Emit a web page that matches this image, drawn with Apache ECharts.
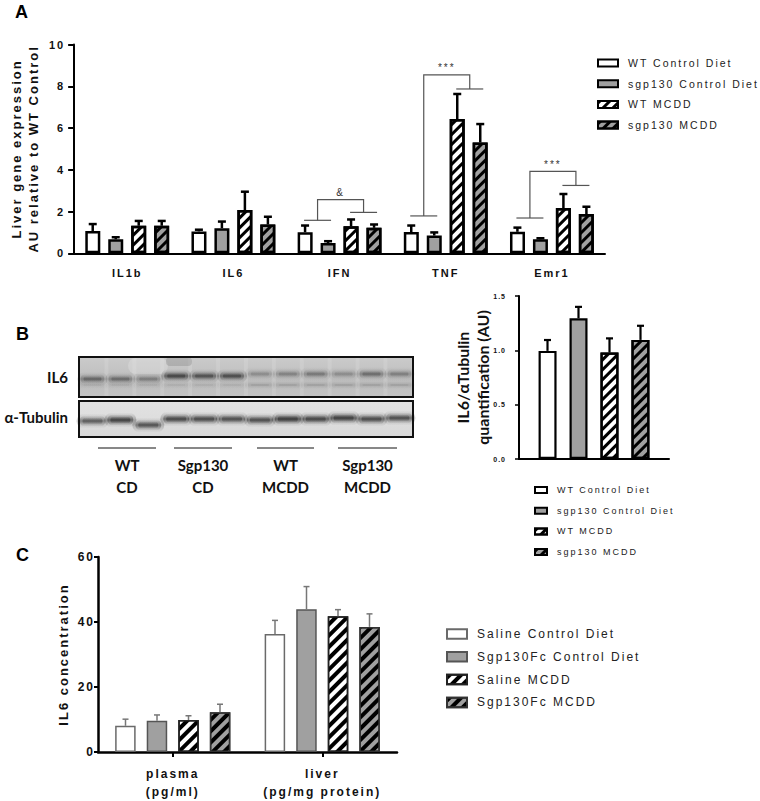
<!DOCTYPE html>
<html><head><meta charset="utf-8">
<script src="https://cdn.jsdelivr.net/npm/echarts@6/dist/echarts.min.js"></script>
<style>
html,body{margin:0;padding:0;background:#fff;}
#chart{width:760px;height:801px;}
#chart text{letter-spacing:2px;}
#chart text[style*="Lato"]{letter-spacing:0;}
#chart text[style*="Arial"]{letter-spacing:1px;}
</style></head><body><div id="chart"></div>
<script>
// ---------- Panel A: liver gene expression ----------
const geneCategories = ['IL1b', 'IL6', 'IFN', 'TNF', 'Emr1'];
const groupNames = ['WT Control Diet', 'sgp130 Control Diet', 'WT MCDD', 'sgp130 MCDD'];
const wtCD_gene = [1.07, 1.05, 1.01, 1.02, 1.03];
const wtCD_geneSem = [0.33, 0.08, 0.32, 0.31, 0.20];
const sgpCD_gene = [0.67, 1.20, 0.49, 0.85, 0.67];
const sgpCD_geneSem = [0.10, 0.32, 0.09, 0.15, 0.05];
const wtMCDD_gene = [1.32, 2.07, 1.30, 6.43, 2.17];
const wtMCDD_geneSem = [0.23, 0.88, 0.32, 1.20, 0.67];
const sgpMCDD_gene = [1.32, 1.38, 1.22, 5.31, 1.88];
const sgpMCDD_geneSem = [0.23, 0.37, 0.16, 0.88, 0.35];
const geneTicks = [0, 2, 4, 6, 8, 10];
// significance brackets: [category index, left level, right level, top level]
const bracketLevels = [[2, 1.58, 1.96, 2.57], [3, 1.79, 7.87, 8.55], [4, 1.69, 3.25, 3.92]];
const bracketLabels = ['&', '***', '***'];

// ---------- Panel B: western blot quantification ----------
const blotCategory = ['IL6'];
const blotQuant = [0.995, 1.295, 0.98, 1.096];
const blotQuantSem = [0.10, 0.105, 0.13, 0.13];
const blotGenotype = ['WT', 'Sgp130', 'WT', 'Sgp130'];
const blotDiet = ['CD', 'CD', 'MCDD', 'MCDD'];
const il6BandDensity = [0.50, 0.46, 0.34, 0.78, 0.68, 0.72, 0.26, 0.32, 0.38, 0.26, 0.46, 0.34];
const tubulinBandDensity = [0.62, 0.86, 0.70, 0.80, 0.78, 0.74, 0.74, 0.92, 0.82, 0.88, 0.78, 0.74];

// ---------- Panel C: IL6 concentration ----------
const tissueCategories = ['plasma\n(pg/ml)', 'liver\n(pg/mg protein)'];
const treatNames = ['Saline Control Diet', 'Sgp130Fc Control Diet', 'Saline MCDD', 'Sgp130Fc MCDD'];
const salineCD_il6 = [8.06, 36.3];
const salineCD_il6Sem = [2.04, 4.2];
const sgpFcCD_il6 = [9.65, 43.9];
const sgpFcCD_il6Sem = [1.75, 7.0];
const salineMCDD_il6 = [9.85, 41.8];
const salineMCDD_il6Sem = [1.3, 2.0];
const sgpFcMCDD_il6 = [12.2, 38.5];
const sgpFcMCDD_il6Sem = [2.5, 4.0];

// ---------- helpers ----------
const FONT = 'Liberation Sans';
const GRAY = '#a0a0a0';
function stripes(th, gap) {
  return { symbol: 'rect', symbolSize: 1, dashArrayX: [1, 0], dashArrayY: [th, gap], rotation: -Math.PI / 4, color: '#000' };
}
function errData(means, sems) {
  const out = [];
  means.forEach((arr, k) => arr.forEach((v, i) => out.push([i, v, v + sems[k][i], k])));
  return out;
}
function errRender(step, half, color, width) {
  return function (params, api) {
    const i = api.value(0), k = api.value(3);
    const p0 = api.coord([i, api.value(1)]);
    const p1 = api.coord([i, api.value(2)]);
    const x = p0[0] + (k - 1.5) * step;
    const st = { stroke: color, lineWidth: width };
    return { type: 'group', children: [
      { type: 'line', shape: { x1: x, y1: p0[1], x2: x, y2: p1[1] }, style: st },
      { type: 'line', shape: { x1: x - half, y1: p1[1], x2: x + half, y2: p1[1] }, style: st }
    ] };
  };
}
const stepA = 23, stepB = 31, stepC = 31.5;

function bracketRender(params, api) {
  const i = api.value(0);
  const cx = api.coord([i, 0])[0];
  const yL = api.coord([i, api.value(1)])[1];
  const yR = api.coord([i, api.value(2)])[1];
  const yT = api.coord([i, api.value(3)])[1];
  const c = k => cx + (k - 1.5) * stepA;
  const xl0 = c(0) - 1, xl1 = c(1) + 3, xr0 = c(2) - 1, xr1 = c(3) + 3;
  const xl = (xl0 + xl1) / 2, xr = (xr0 + xr1) / 2;
  const st = { stroke: '#555', lineWidth: 1.2, fill: null };
  return { type: 'group', children: [
    { type: 'polyline', shape: { points: [[xl0, yL], [xl1, yL]] }, style: st },
    { type: 'polyline', shape: { points: [[xl, yL], [xl, yT], [xr, yT], [xr, yR]] }, style: st },
    { type: 'polyline', shape: { points: [[xr0, yR], [xr1, yR]] }, style: st },
    { type: 'text', x: (xl + xr) / 2, y: yT - 2, style: { text: bracketLabels[params.dataIndex], align: 'center', verticalAlign: 'bottom', font: '10px ' + FONT, fill: '#333' } }
  ] };
}

function blotGraphics() {
  const els = [];
  const x0 = 79, w = 334, firstLane = 92.5, laneStep = 27.9;
  const grad = (stops) => ({ type: 'linear', x: 0, y: 0, x2: 0, y2: 1, colorStops: stops });
  const soft = (a) => grad([{ offset: 0, color: 'rgba(40,40,40,0)' }, { offset: 0.5, color: 'rgba(40,40,40,' + a + ')' }, { offset: 1, color: 'rgba(40,40,40,0)' }]);
  const band = (cx, cy, bw, bh, a) => {
    els.push({ type: 'rect', silent: true, shape: { x: cx - bw / 2 - 3, y: cy - bh / 2 - 2, width: bw + 6, height: bh + 4, r: bh / 2 + 2 }, style: { fill: soft(a * 0.35) } });
    els.push({ type: 'rect', silent: true, shape: { x: cx - bw / 2, y: cy - bh / 2, width: bw, height: bh, r: bh / 2 }, style: { fill: soft(a * 0.6) } });
    els.push({ type: 'rect', silent: true, shape: { x: cx - bw / 2 + 3, y: cy - bh / 2 + 2, width: bw - 6, height: bh - 4, r: (bh - 4) / 2 }, style: { fill: soft(a * 0.7) } });
  };
  // IL6 membrane
  els.push({ type: 'rect', silent: true, shape: { x: x0, y: 357, width: w, height: 40 },
    style: { fill: grad([{ offset: 0, color: '#cbcbcb' }, { offset: 0.55, color: '#bebebe' }, { offset: 1, color: '#c3c3c3' }]) } });
  for (let i = 0; i < 12; i++) {
    const lx = firstLane + i * laneStep + laneStep / 2;
    els.push({ type: 'rect', silent: true, shape: { x: lx - 2, y: 358, width: 4, height: 38 }, style: { fill: 'rgba(255,255,255,0.12)' } });
  }
  els.push({ type: 'rect', silent: true, shape: { x: 128, y: 358, width: 40, height: 16, r: 8 }, style: { fill: 'rgba(230,230,230,0.35)' } });
  els.push({ type: 'rect', silent: true, shape: { x: 166, y: 357, width: 26, height: 9, r: 4 }, style: { fill: 'rgba(90,90,90,0.22)' } });
  const il6Y = [379, 379, 379, 376, 376, 376, 374, 374, 374, 374, 374, 374];
  il6BandDensity.forEach((d, i) => {
    const cx = firstLane + i * laneStep;
    band(cx, il6Y[i], 24, 10, d);
    band(cx, 385, 24, 7, i >= 6 ? 0.16 : 0.09);
  });
  els.push({ type: 'rect', silent: true, shape: { x: x0, y: 357, width: w, height: 40 }, style: { fill: null, stroke: '#111', lineWidth: 2 } });
  // tubulin membrane
  els.push({ type: 'rect', silent: true, shape: { x: x0, y: 401, width: w, height: 36 },
    style: { fill: grad([{ offset: 0, color: '#e2e2e2' }, { offset: 1, color: '#d9d9d9' }]) } });
  const tubY = [421, 420, 425, 419, 419, 419, 420, 419, 419, 418, 419, 418];
  tubulinBandDensity.forEach((d, i) => band(firstLane + i * laneStep, tubY[i], 26, 11, d));
  els.push({ type: 'rect', silent: true, shape: { x: x0, y: 401, width: w, height: 36 }, style: { fill: null, stroke: '#111', lineWidth: 2 } });
  // row labels
  els.push({ type: 'text', silent: true, x: 68, y: 377, style: { text: 'IL6', align: 'right', verticalAlign: 'middle', font: 'bold 15px Lato', fill: '#111' } });
  els.push({ type: 'text', silent: true, x: 68, y: 417, style: { text: 'α-Tubulin', align: 'right', verticalAlign: 'middle', font: 'bold 15px Lato', fill: '#111' } });
  // lane group labels
  const segs = [[98, 156], [174, 232], [257, 314], [338, 397]];
  segs.forEach((s, g) => {
    els.push({ type: 'line', silent: true, shape: { x1: s[0], y1: 448, x2: s[1], y2: 448 }, style: { stroke: '#111', lineWidth: 1 } });
    const mx = (s[0] + s[1]) / 2;
    els.push({ type: 'text', silent: true, x: mx, y: 465, style: { text: blotGenotype[g], align: 'center', verticalAlign: 'middle', font: 'bold 15px Lato', fill: '#111' } });
    els.push({ type: 'text', silent: true, x: mx, y: 487, style: { text: blotDiet[g], align: 'center', verticalAlign: 'middle', font: 'bold 15px Lato', fill: '#111' } });
  });
  return els;
}

const axisLineBlack = (w) => ({ show: true, lineStyle: { color: '#000', width: w } });
const tickLabel = (size, margin, extra) => Object.assign({ fontFamily: FONT, fontWeight: 'bold', fontSize: size, color: '#111', margin: margin }, extra || {});

const aMeans = [wtCD_gene, sgpCD_gene, wtMCDD_gene, sgpMCDD_gene];
const aSems = [wtCD_geneSem, sgpCD_geneSem, wtMCDD_geneSem, sgpMCDD_geneSem];
const aFill = ['#fff', GRAY, '#fff', GRAY];
const cMeans = [salineCD_il6, sgpFcCD_il6, salineMCDD_il6, sgpFcMCDD_il6];
const cSems = [salineCD_il6Sem, sgpFcCD_il6Sem, salineMCDD_il6Sem, sgpFcMCDD_il6Sem];
const cBorder = ['#6a6a6a', '#555', '#222', '#333'];

const series = [];
groupNames.forEach((n, k) => series.push({
  type: 'bar', name: n, xAxisIndex: 0, yAxisIndex: 0, data: aMeans[k], barWidth: 15, barGap: '53%',
  itemStyle: { color: aFill[k], borderColor: '#000', borderWidth: 2.5, decal: k >= 2 ? stripes(3, 4) : null }
}));
series.push({ type: 'custom', name: 'errA', xAxisIndex: 0, yAxisIndex: 0, data: errData(aMeans, aSems), encode: { x: 0, y: 1 }, renderItem: errRender(stepA, 4, '#000', 2.5), z: 5 });
series.push({ type: 'custom', name: 'brackets', xAxisIndex: 0, yAxisIndex: 0, data: bracketLevels, encode: { x: 0, y: 1 }, renderItem: bracketRender, z: 5 });
groupNames.forEach((n, k) => series.push({
  type: 'bar', name: n, xAxisIndex: 1, yAxisIndex: 1, data: [blotQuant[k]], barWidth: 18, barGap: '72%',
  itemStyle: { color: aFill[k], borderColor: '#000', borderWidth: 2.2, decal: k >= 2 ? stripes(3, 4) : null }
}));
series.push({ type: 'custom', name: 'errB', xAxisIndex: 1, yAxisIndex: 1, data: blotQuant.map((v, k) => [0, v, v + blotQuantSem[k], k]), encode: { x: 0, y: 1 }, renderItem: errRender(stepB, 3.5, '#000', 2.2), z: 5 });
treatNames.forEach((n, k) => series.push({
  type: 'bar', name: n, xAxisIndex: 2, yAxisIndex: 2, data: cMeans[k], barWidth: 20.5, barGap: '54%',
  itemStyle: { color: aFill[k], borderColor: cBorder[k], borderWidth: 1.5, decal: k >= 2 ? stripes(4, 4) : null }
}));
series.push({ type: 'custom', name: 'errC', xAxisIndex: 2, yAxisIndex: 2, data: errData(cMeans, cSems), encode: { x: 0, y: 1 }, renderItem: errRender(stepC, 3, '#777', 1.5), z: 5 });

const legendBase = (extra) => Object.assign({ orient: 'vertical', icon: 'rect', selectedMode: false }, extra);

const option = {
  animation: false,
  backgroundColor: '#fff',
  grid: [
    { left: 69, top: 44.5, width: 536, height: 208.8 },
    { left: 519, top: 296, width: 150, height: 163 },
    { left: 98, top: 557, width: 299, height: 201 }
  ],
  xAxis: [
    { gridIndex: 0, type: 'category', data: geneCategories, axisLine: axisLineBlack(2), axisTick: { show: false }, axisLabel: tickLabel(11, 14) },
    { gridIndex: 1, type: 'category', data: blotCategory, axisLine: axisLineBlack(2), axisTick: { show: false }, axisLabel: { show: false } },
    { gridIndex: 2, type: 'category', data: tissueCategories, axisLine: axisLineBlack(2.5),
      axisTick: { show: true, alignWithLabel: true, length: 5, lineStyle: { color: '#000', width: 2 } }, axisLabel: tickLabel(12, 13, { lineHeight: 18 }) }
  ],
  yAxis: [
    { gridIndex: 0, type: 'value', min: geneTicks[0], max: geneTicks[geneTicks.length - 1], interval: geneTicks[1] - geneTicks[0],
      axisLine: axisLineBlack(2), axisTick: { show: true, length: 6, lineStyle: { color: '#000', width: 2 } }, splitLine: { show: false },
      axisLabel: tickLabel(11, 9),
      name: 'Liver gene expression\nAU relative to WT Control', nameLocation: 'middle', nameGap: 26,
      nameTextStyle: { fontFamily: FONT, fontWeight: 'bold', fontSize: 13, lineHeight: 17, color: '#111' } },
    { gridIndex: 1, type: 'value', min: 0, max: 1.5, interval: 0.5,
      axisLine: axisLineBlack(2), axisTick: { show: true, length: 4, lineStyle: { color: '#000', width: 1.5 } }, splitLine: { show: false },
      axisLabel: { fontFamily: 'Arial', fontWeight: 'bold', fontSize: 7, color: '#111', margin: 13, formatter: v => v.toFixed(1) },
      name: 'IL6/αTubulin\nquantification (AU)', nameLocation: 'middle', nameGap: 25,
      nameTextStyle: { fontFamily: 'Lato', fontWeight: 'bold', fontSize: 16, lineHeight: 20, color: '#111' } },
    { gridIndex: 2, type: 'value', min: 0, max: 60, interval: 20,
      axisLine: axisLineBlack(2.5), axisTick: { show: true, length: 4, lineStyle: { color: '#000', width: 2 } }, splitLine: { show: false },
      axisLabel: tickLabel(12, 3),
      name: 'IL6 concentration', nameLocation: 'middle', nameGap: 28,
      nameTextStyle: { fontFamily: FONT, fontWeight: 'bold', fontSize: 13, color: '#111' } }
  ],
  legend: [
    legendBase({ data: groupNames, left: 592, top: 52.5, itemWidth: 20, itemHeight: 7, itemGap: 9.7,
      textStyle: { fontFamily: FONT, fontSize: 10.5, color: '#222', padding: [0, 0, 0, 5] } }),
    legendBase({ data: groupNames, left: 529, top: 480.5, itemWidth: 12, itemHeight: 6, itemGap: 11.7, itemStyle: { borderWidth: 2 },
      textStyle: { fontFamily: FONT, fontSize: 9, color: '#222', padding: [0, 0, 0, 5] } }),
    legendBase({ data: treatNames, left: 441, top: 623, itemWidth: 20, itemHeight: 9.5, itemGap: 10.8,
      textStyle: { fontFamily: FONT, fontSize: 12, color: '#222', padding: [0, 0, 0, 5] } })
  ],
  series: series,
  graphic: [
    { type: 'text', x: 15, y: 12, style: { text: 'A', font: 'bold 18px ' + FONT, verticalAlign: 'middle', fill: '#000' } },
    { type: 'text', x: 16, y: 334, style: { text: 'B', font: 'bold 18px ' + FONT, verticalAlign: 'middle', fill: '#000' } },
    { type: 'text', x: 16, y: 555, style: { text: 'C', font: 'bold 18px ' + FONT, verticalAlign: 'middle', fill: '#000' } }
  ].concat(blotGraphics())
};

const chart = echarts.init(document.getElementById('chart'), null, { renderer: 'svg' });
chart.setOption(option);
</script></body></html>
